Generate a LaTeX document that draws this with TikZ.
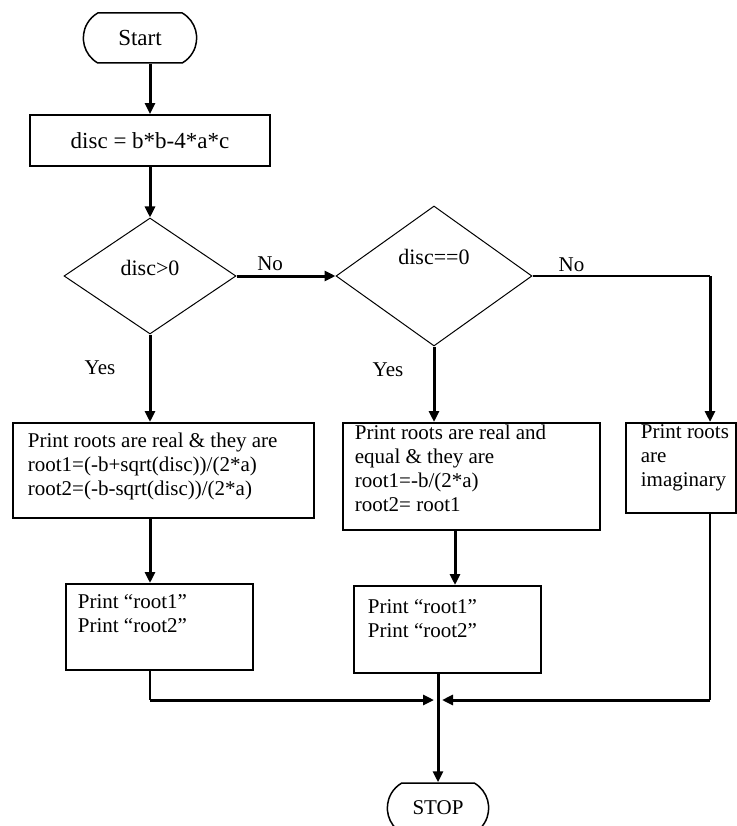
\documentclass[tikz,border=0pt]{standalone}
\usepackage{fontspec}
\setmainfont{Liberation Serif}
\usetikzlibrary{shapes.geometric,shapes.misc,arrows.meta}

\newcommand{\prtext}[4]{\parbox[t][#2][t]{#1}{\vspace*{#3}#4}}

\begin{document}
\begin{tikzpicture}[x=1pt,y=-1pt,
  every node/.style={font=\fontsize{21}{24}\selectfont},
  term/.style={draw,line width=1.5pt,rounded rectangle,rounded rectangle arc length=120,minimum width=120pt,minimum height=50pt},
  proc/.style={draw,line width=1.8pt,anchor=north west,inner ysep=0pt},
  decision/.style={draw,line width=1pt,diamond,inner sep=0pt},
  arr/.style={line width=3pt,-{Triangle[length=11pt,width=10pt]}},
  wire/.style={line width=1.5pt}]
\useasboundingbox (0,0) rectangle (736,826);

\node[term,font=\fontsize{23}{26}\selectfont] (start) at (140,38) {Start};
\node[draw,line width=1.8pt,minimum width=240pt,minimum height=51pt,font=\fontsize{23}{26}\selectfont] (disc) at (150,140.5) {disc = b*b-4*a*c};
\node[decision,minimum width=172pt,minimum height=116pt,label={[yshift=8pt,font=\fontsize{22}{24}\selectfont]center:disc>0}] (d1) at (150,276) {};
\node[decision,minimum width=196pt,minimum height=140pt,label={[yshift=19pt,font=\fontsize{22}{24}\selectfont]center:disc==0}] (d2) at (434,276) {};

\node[proc,inner xsep=15pt] (p1) at (12,422) {\prtext{271pt}{95pt}{10pt}{Print roots are real \& they are\\root1=(-b+sqrt(disc))/(2*a)\\root2=(-b-sqrt(disc))/(2*a)}};
\node[proc,inner xsep=12pt] (p2) at (342,422) {\prtext{233pt}{107pt}{2pt}{Print roots are real and\\equal \& they are\\root1=-b/(2*a)\\root2= root1}};
\node[proc,inner xsep=15pt] (p3) at (625,422) {\prtext{80pt}{90pt}{2pt}{\mbox{Print roots}\\are\\imaginary}};
\node[proc,inner xsep=12pt] (p4) at (65,583) {\prtext{163pt}{86pt}{11pt}{Print “root1”\\Print “root2”}};
\node[proc,inner xsep=14pt] (p5) at (353,585) {\prtext{159pt}{87pt}{14pt}{Print “root1”\\Print “root2”}};

\node[term,minimum width=108pt] (stop) at (438,808) {STOP};
\node (yes1) at (100,368) {Yes};
\node (yes2) at (388,370) {Yes};

\coordinate (c2) at (455,0);
\coordinate (c3) at (710,276);
\coordinate (j) at (438,700);

\draw[arr] ([xshift=10pt]start.south) -- (disc.north);
\draw[arr] (disc.south) -- (d1.north);
\draw[arr] (d1.east) -- node[above,pos=.34] (no1) {No} (d2.west);
\draw[wire] (d2.east) -- node[above,pos=.22] (no2) {No} (c3);
\draw[arr] (c3) -- (c3 |- p3.north);
\draw[arr] (d1.south) -- (d1.south |- p1.north);
\draw[arr] (d2.south) -- (d2.south |- p2.north);
\draw[arr] (d1.south |- p1.south) -- (d1.south |- p4.north);
\draw[arr] (c2 |- p2.south) -- (c2 |- p5.north);
\draw[wire] (d1.south |- p4.south) -- (d1.south |- j);
\draw[arr,shorten >=4pt] (d1.south |- j) -- (j);
\draw[wire] (c3 |- p3.south) -- (c3 |- j);
\draw[arr,shorten >=4pt] (c3 |- j) -- (j);
\draw[arr] (j |- p5.south) -- (stop.north);
\end{tikzpicture}
\end{document}
